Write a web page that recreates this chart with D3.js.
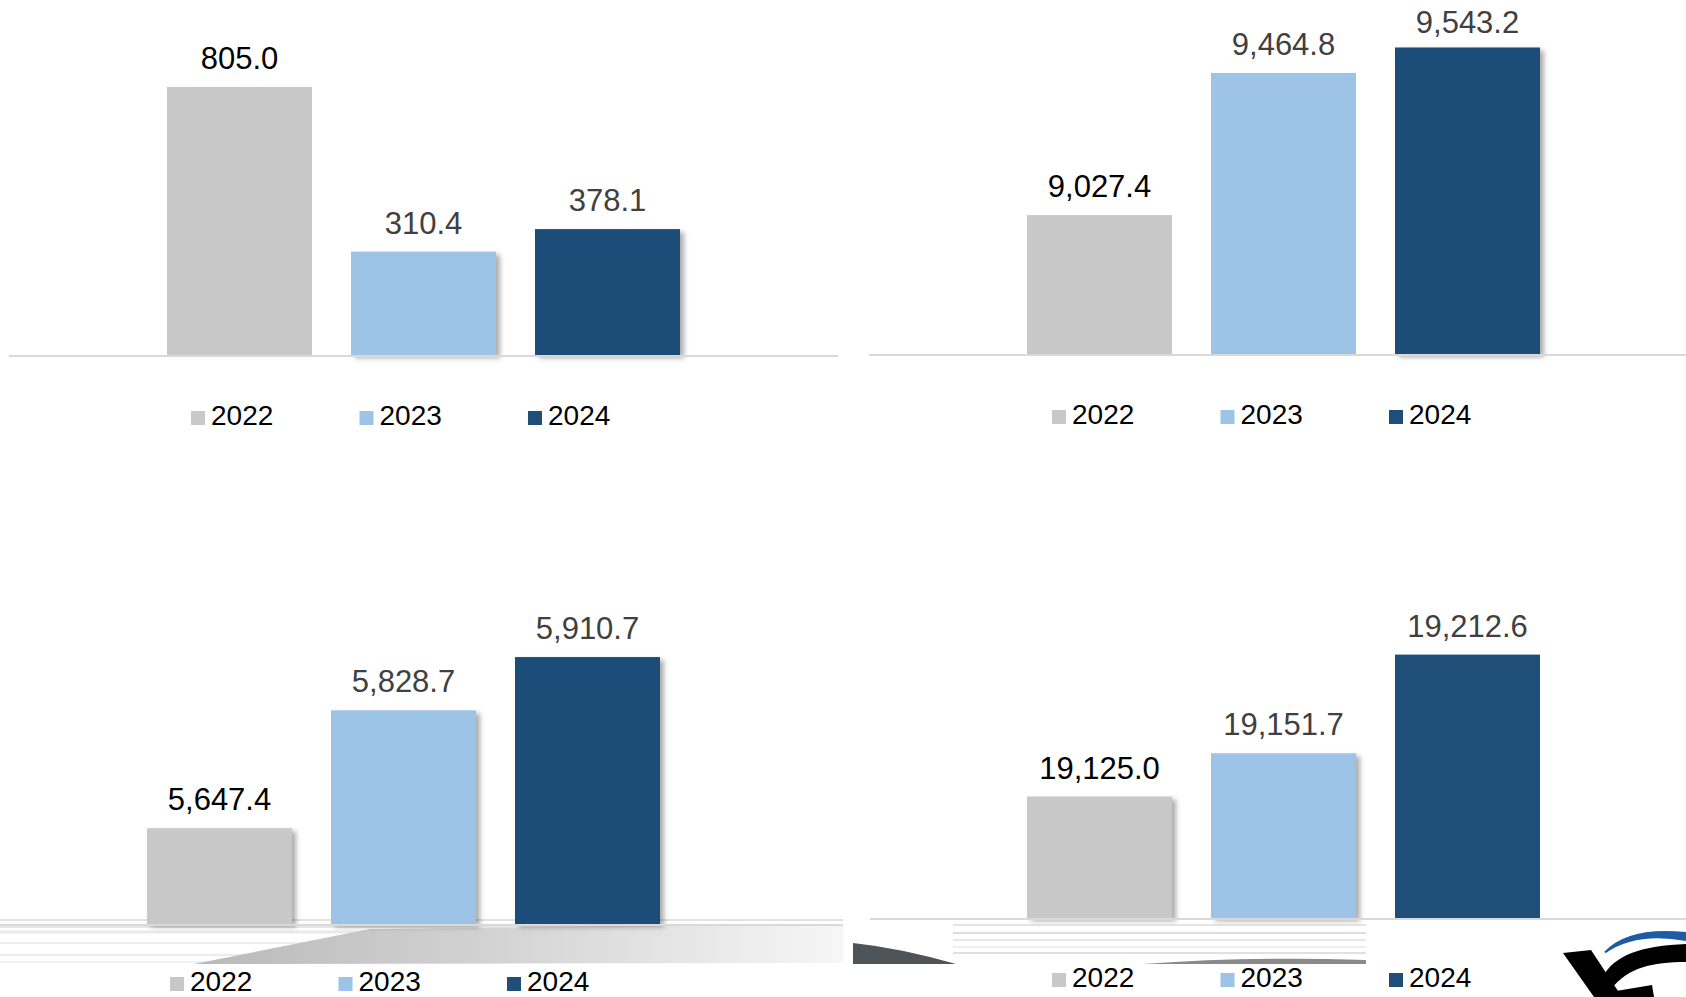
<!DOCTYPE html>
<html>
<head>
<meta charset="utf-8">
<script src="https://cdn.jsdelivr.net/npm/d3@7"></script>
<style>
  body { margin: 0; background: #fff; }
  svg { display: block; font-family: "Liberation Sans", Arial, sans-serif; }
</style>
</head>
<body>
<div id="chart"></div>
<script>
// data
var years = ['2022', '2023', '2024']
var barColors = ['#c8c8c8', '#9dc3e6', '#1f4e79']
var labelColors = ['#000000', '#404040', '#404040']

var valuesTopLeft = [805.0, 310.4, 378.1]
var valuesTopRight = [9027.4, 9464.8, 9543.2]
var valuesBottomLeft = [5647.4, 5828.7, 5910.7]
var valuesBottomRight = [19125.0, 19151.7, 19212.6]

var width = 1686
var height = 997

// panel layout (axis domains, pixel boxes)
var panels = [
  { values: valuesTopLeft, domain: [0, 1000], base: 355, top: 22, labelMin: 0,
    x0: 147.5, x1: 699.5, line: [9, 838], legendX: 191, legendY: 425, shadow: [1, 2] },
  { values: valuesTopRight, domain: [8600, 9600], base: 354, top: 29, labelMin: 33,
    x0: 1007.5, x1: 1559.5, line: [869, 1686], legendX: 1052, legendY: 424, shadow: [2] },
  { values: valuesBottomLeft, domain: [5500, 6000], base: 924, top: 599, labelMin: 0,
    x0: 127.5, x1: 679.5, line: [0, 843], legendX: 170, legendY: 991, shadow: [0, 1, 2] },
  { values: valuesBottomRight, domain: [19050, 19250], base: 918, top: 594, labelMin: 0,
    x0: 1007.5, x1: 1559.5, line: [870, 1686], legendX: 1052, legendY: 987, shadow: [0, 1] }
]

var fmt = d3.format(',.1f')
var color = d3.scaleOrdinal().domain(years).range(barColors)
var labelColor = d3.scaleOrdinal().domain(years).range(labelColors)

var svg = d3.select('#chart')
  .append('svg')
    .attr('width', width)
    .attr('height', height)

var defs = svg.append('defs')
defs.append('filter')
    .attr('id', 'shadow')
    .attr('x', '-10%').attr('y', '-10%')
    .attr('width', '130%').attr('height', '130%')
  .append('feDropShadow')
    .attr('dx', 4).attr('dy', 3)
    .attr('stdDeviation', 2.5)
    .attr('flood-color', '#000')
    .attr('flood-opacity', 0.32)

var wedge = defs.append('linearGradient')
    .attr('id', 'wedge')
    .attr('x1', '0%').attr('x2', '100%')
wedge.append('stop').attr('offset', '0%').attr('stop-color', '#b9b9b9')
wedge.append('stop').attr('offset', '45%').attr('stop-color', '#d2d2d2')
wedge.append('stop').attr('offset', '100%').attr('stop-color', '#f6f6f6')

// background leftovers of the slide, bottom area
var bg = svg.append('g').attr('class', 'background')

var leftLines = [[920, '#e2e2e2', 2], [927, '#e6e6e6', 2], [932, '#eaeaea', 3],
                 [943, '#eeeeee', 2], [955, '#ececec', 2], [962, '#f0f0f0', 2]]
bg.selectAll('line.bl')
  .data(leftLines)
  .enter()
  .append('line')
    .attr('class', 'bl')
    .attr('x1', 0).attr('x2', 843)
    .attr('y1', function(d){ return d[0] })
    .attr('y2', function(d){ return d[0] })
    .attr('stroke', function(d){ return d[1] })
    .attr('stroke-width', function(d){ return d[2] })

bg.append('path')
    .attr('d', 'M194,964 L370,929 L843,924 L843,963 Z')
    .attr('fill', 'url(#wedge)')

var rightLines = [[925, '#e4e4e4', 2], [933, '#dddddd', 2], [940, '#e8e8e8', 2],
                  [947, '#eeeeee', 2], [953, '#e0e0e0', 2]]
bg.selectAll('line.br')
  .data(rightLines)
  .enter()
  .append('line')
    .attr('class', 'br')
    .attr('x1', 953).attr('x2', 1366)
    .attr('y1', function(d){ return d[0] })
    .attr('y2', function(d){ return d[0] })
    .attr('stroke', function(d){ return d[1] })
    .attr('stroke-width', function(d){ return d[2] })

bg.append('path')
    .attr('d', 'M853,943 Q900,948 956,964 L853,964 Z')
    .attr('fill', '#4f5458')
bg.append('path')
    .attr('d', 'M1143,964 Q1250,956 1366,960 L1366,964 Z')
    .attr('fill', '#8a8a8a')

// logo in the corner
var logo = svg.append('g').attr('class', 'logo')
logo.append('path')
    .attr('d', 'M1604,952 Q1628,926 1686,932 L1686,941 Q1636,932 1606,953 Z')
    .attr('fill', '#1f5aa6')
logo.append('path')
    .attr('d', 'M1563,953 L1591,950 L1622,997 L1594,997 Z')
    .attr('fill', '#000')
logo.append('path')
    .attr('d', 'M1602,978 C1615,954 1642,946 1686,944 L1686,962 C1652,962 1628,968 1612,988 Z')
    .attr('fill', '#000')
logo.append('path')
    .attr('d', 'M1616,991 L1652,985 L1654,997 L1619,997 Z')
    .attr('fill', '#000')

panels.forEach(function(p){
  var x = d3.scaleBand()
    .domain(years)
    .range([p.x0, p.x1])
    .paddingInner(0.212)
    .paddingOuter(0.106)

  var y = d3.scaleLinear()
    .domain(p.domain)
    .range([p.base, p.top])

  var g = svg.append('g')

  g.selectAll('rect.bar')
    .data(p.values)
    .enter()
    .append('rect')
      .attr('class', 'bar')
      .attr('x', function(d, i){ return x(years[i]) })
      .attr('y', function(d){ return y(d) })
      .attr('width', x.bandwidth())
      .attr('height', function(d){ return p.base - y(d) })
      .attr('fill', function(d, i){ return color(years[i]) })
      .attr('filter', function(d, i){ return p.shadow.indexOf(i) >= 0 ? 'url(#shadow)' : null })

  g.append('line')
      .attr('x1', p.line[0]).attr('x2', p.line[1])
      .attr('y1', p.base + 1).attr('y2', p.base + 1)
      .attr('stroke', '#d9d9d9')
      .attr('stroke-width', 2)

  g.selectAll('text.value')
    .data(p.values)
    .enter()
    .append('text')
      .attr('class', 'value')
      .attr('x', function(d, i){ return x(years[i]) + x.bandwidth() / 2 })
      .attr('y', function(d){ return Math.max(y(d) - 18, p.labelMin) })
      .attr('text-anchor', 'middle')
      .style('font-size', '31px')
      .style('fill', function(d, i){ return labelColor(years[i]) })
      .text(function(d){ return fmt(d) })

  var legend = g.selectAll('g.legend')
    .data(years)
    .enter()
    .append('g')
      .attr('class', 'legend')
      .attr('transform', function(d, i){ return 'translate(' + (p.legendX + i * 168.5) + ',' + p.legendY + ')' })

  legend.append('rect')
      .attr('x', 0).attr('y', -14)
      .attr('width', 14).attr('height', 14)
      .attr('fill', function(d){ return color(d) })

  legend.append('text')
      .attr('x', 20).attr('y', 0)
      .style('font-size', '28px')
      .style('fill', '#000')
      .text(function(d){ return d })
})
</script>
</body>
</html>
